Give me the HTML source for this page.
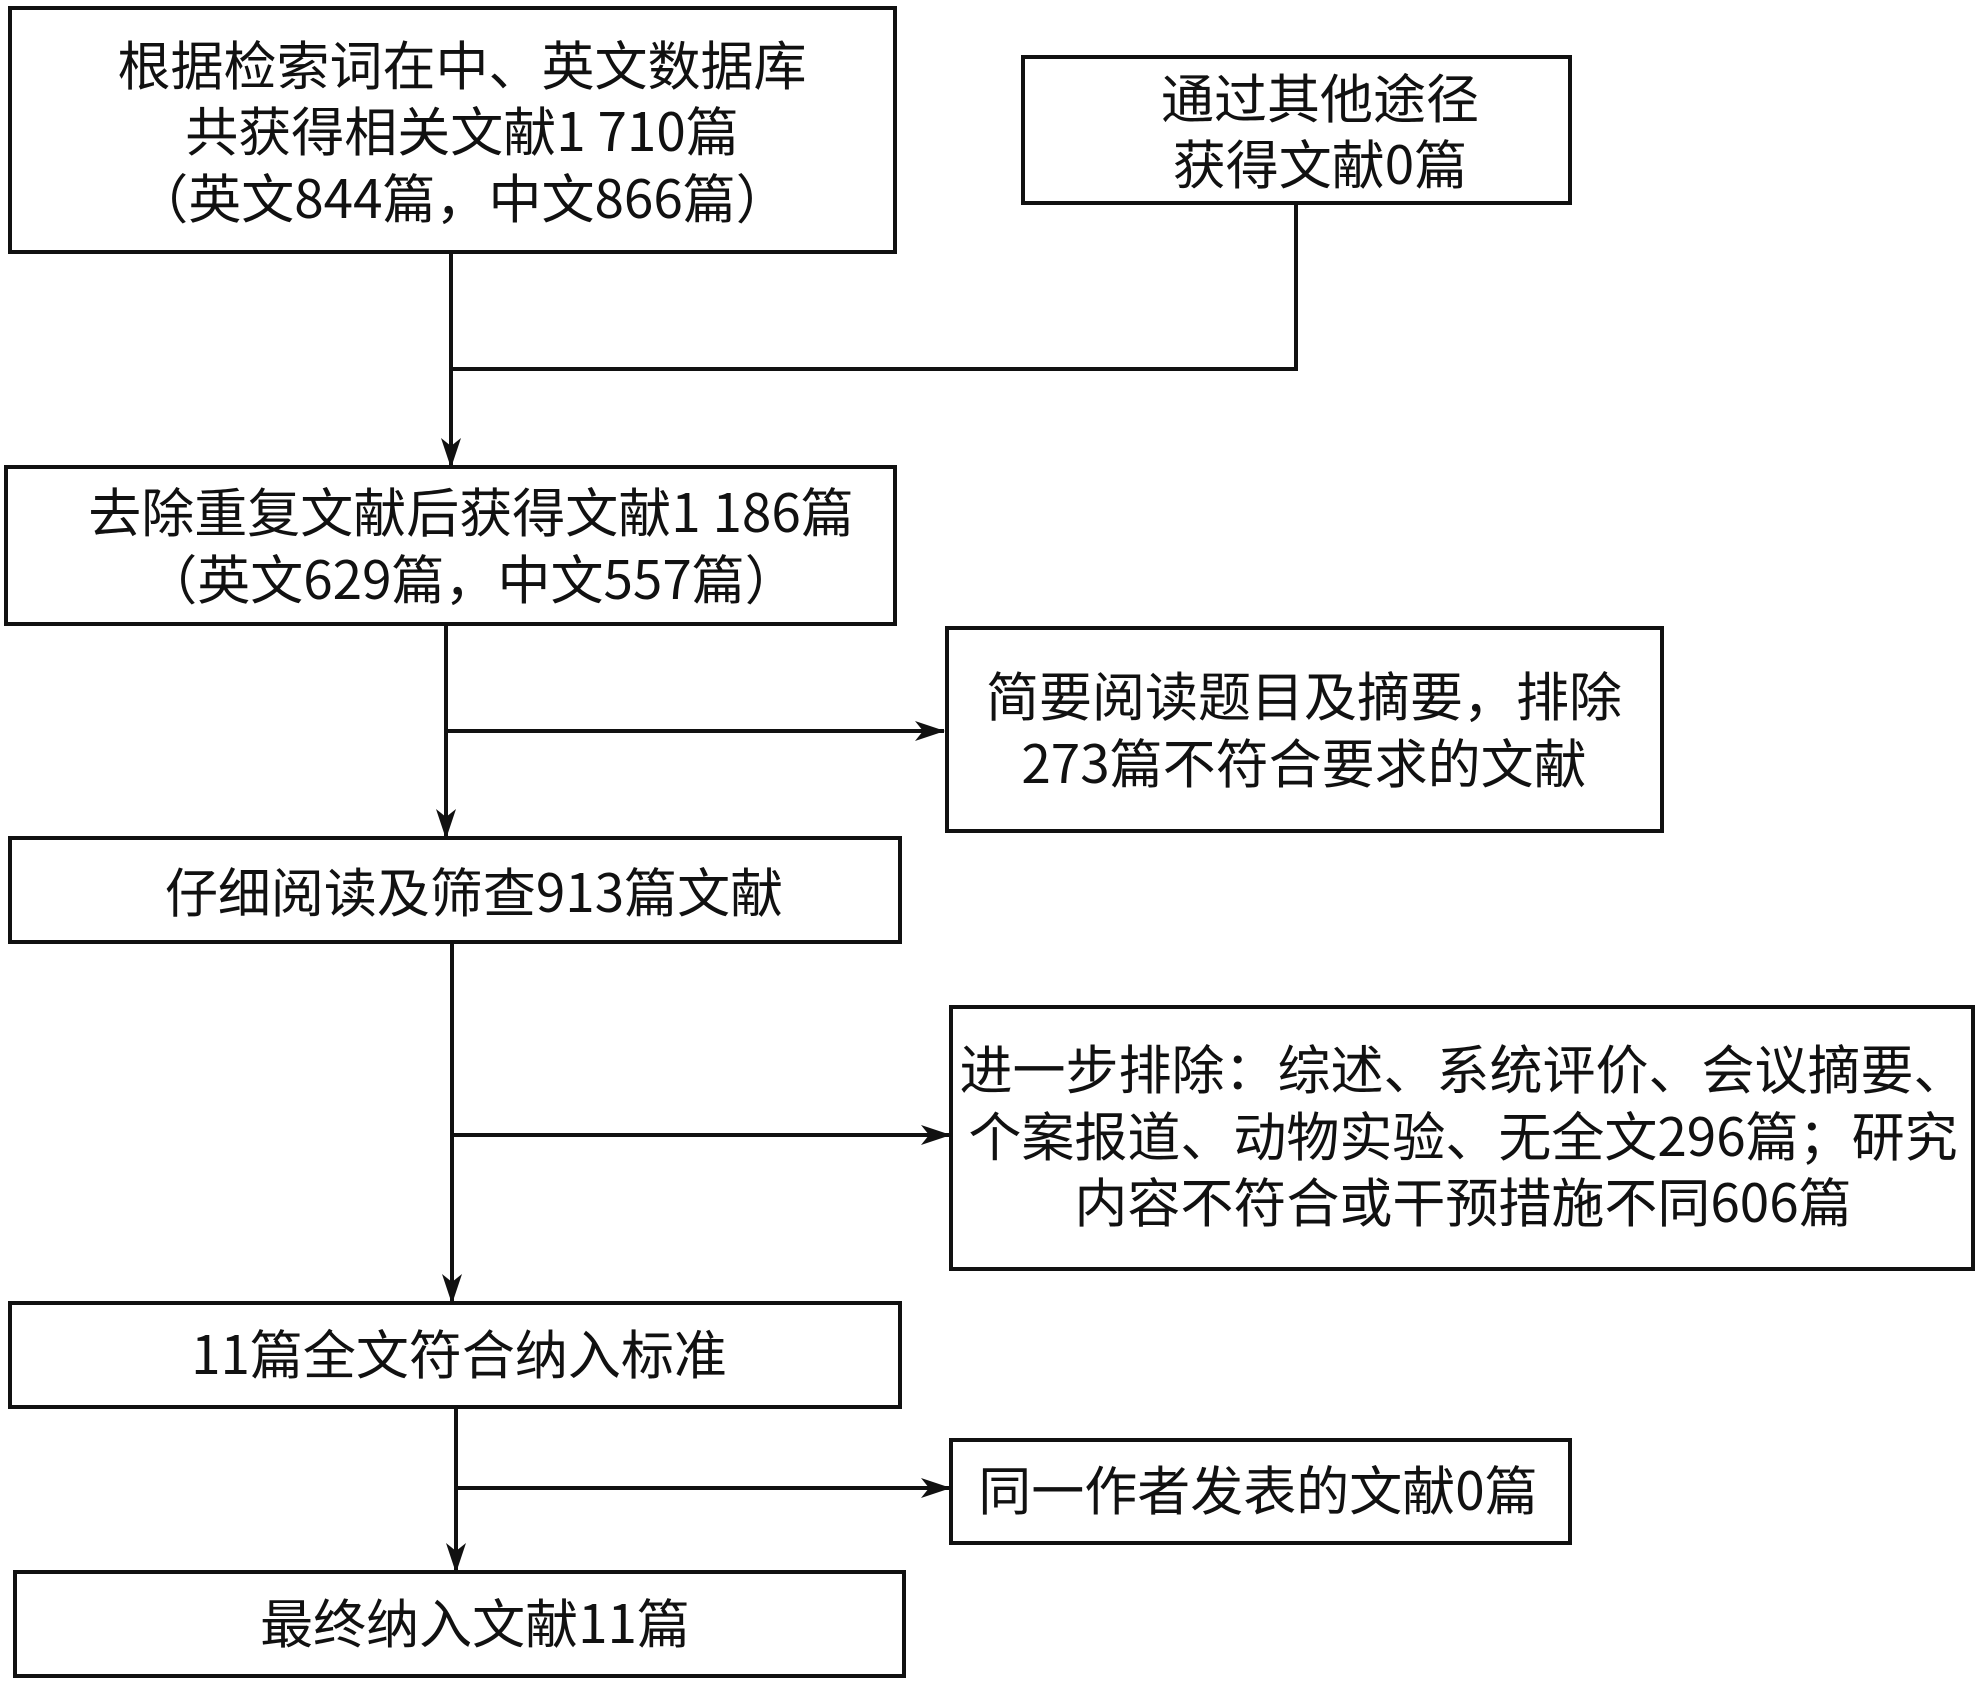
<!DOCTYPE html>
<html><head><meta charset="utf-8"><style>
html,body{margin:0;padding:0;background:#fff}
text{font-family:"Noto Sans CJK SC","Liberation Sans",sans-serif;font-size:53px;fill:#111;text-anchor:middle;dominant-baseline:central}
</style></head><body>
<svg width="1982" height="1682" xmlns="http://www.w3.org/2000/svg">
<defs>
<marker id="b" viewBox="0 0 30 20" markerWidth="30" markerHeight="20" refX="29" refY="10" orient="auto" markerUnits="userSpaceOnUse"><path d="M0,0 L30,10 L0,20 L8,10 z" fill="#111"/></marker></defs>
<g fill="none" stroke="#111" stroke-width="4">
<rect x="10" y="8" width="885" height="244"/>
<rect x="1023" y="57" width="547" height="146"/>
<rect x="6" y="467" width="889" height="157"/>
<rect x="947" y="628" width="715" height="203"/>
<rect x="10" y="838" width="890" height="104"/>
<rect x="951" y="1007" width="1022" height="262"/>
<rect x="10" y="1303" width="890" height="104"/>
<rect x="951" y="1440" width="619" height="103"/>
<rect x="15" y="1572" width="889" height="104"/>
<path d="M1296 203 V369 H451"/>
<line x1="451" y1="252" x2="451" y2="467" marker-end="url(#b)"/>
<line x1="446" y1="624" x2="446" y2="838" marker-end="url(#b)"/>
<line x1="446" y1="731" x2="944" y2="731" marker-end="url(#b)"/>
<line x1="452" y1="942" x2="452" y2="1303" marker-end="url(#b)"/>
<line x1="452" y1="1135" x2="950" y2="1135" marker-end="url(#b)"/>
<line x1="456" y1="1407" x2="456" y2="1572" marker-end="url(#b)"/>
<line x1="456" y1="1488" x2="950" y2="1488" marker-end="url(#b)"/>
</g>
<text x="462" y="63">根据检索词在中、英文数据库</text>
<text x="462" y="129">共获得相关文献1 710篇</text>
<text x="462" y="196">（英文844篇，中文866篇）</text>
<text x="1320" y="96">通过其他途径</text>
<text x="1320" y="162">获得文献0篇</text>
<text x="471" y="510">去除重复文献后获得文献1 186篇</text>
<text x="471" y="577">（英文629篇，中文557篇）</text>
<text x="1304" y="694">简要阅读题目及摘要，排除</text>
<text x="1304" y="761">273篇不符合要求的文献</text>
<text x="474" y="890">仔细阅读及筛查913篇文献</text>
<text x="1463" y="1067">进一步排除：综述、系统评价、会议摘要、</text>
<text x="1463" y="1134">个案报道、动物实验、无全文296篇；研究</text>
<text x="1463" y="1200">内容不符合或干预措施不同606篇</text>
<text x="459" y="1352">11篇全文符合纳入标准</text>
<text x="1258" y="1488">同一作者发表的文献0篇</text>
<text x="475" y="1621">最终纳入文献11篇</text>
</svg>
</body></html>
